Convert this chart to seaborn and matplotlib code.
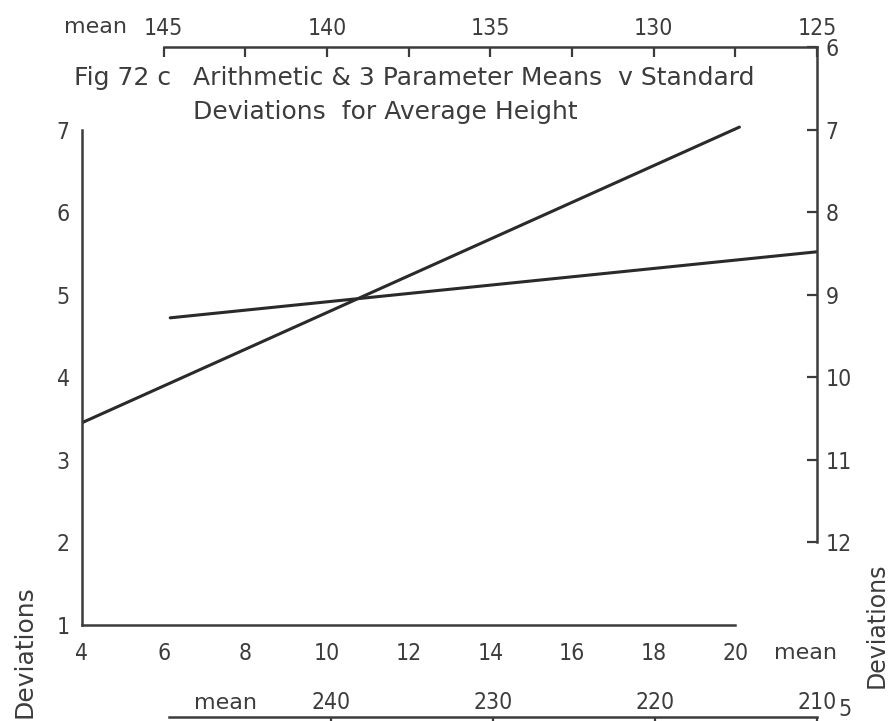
import numpy as np
import pandas as pd
import seaborn as sns
import matplotlib.pyplot as plt

# arithmetic mean series, read on the bottom (mean) and left (deviation) scales
arith_mean = [4.0, 20.1]
arith_sd = [3.45, 7.03]

# 3 parameter mean series, read on the top (mean) and right (deviation) scales
param_mean = [144.8, 125.0]
param_sd = [9.28, 8.48]

bottom_ticks = [4, 6, 8, 10, 12, 14, 16, 18, 20]
left_ticks = [1, 2, 3, 4, 5, 6, 7]
top_ticks = [145, 140, 135, 130, 125]
top_minor = [142.5, 137.5, 132.5, 127.5]
right_ticks = [6, 7, 8, 9, 10, 11, 12]
lower_ticks = [240, 230, 220, 210]

W, H = 891, 721
sns.set_style('white')
plt.rcParams['font.family'] = ['DejaVu Sans']
plt.rcParams['font.stretch'] = 'condensed'
ink = '#3c3c3c'
line_col = '#2a2a2a'
fs = 16.5


def fx(px):
    return px / W


def fy(py):
    return 1 - py / H


fig = plt.figure(figsize=(W / 100, H / 100), dpi=100)
# plot box in pixels: x 82..817, y 47..625 from the top
pos = [fx(82), fy(625), (817 - 82) / W, (625 - 47) / H]

# main axes: bottom mean 4-20, left deviations 1-7
ax = fig.add_axes(pos)
ax.set_xlim(4, 22)
ax.set_ylim(1, 8)
sns.lineplot(x=arith_mean, y=arith_sd, ax=ax, color=line_col, lw=2.2)
for s in ['top', 'right']:
    ax.spines[s].set_visible(False)
ax.spines['left'].set_bounds(1, 7)
ax.spines['bottom'].set_bounds(4, 20)
ax.set_xticks(bottom_ticks)
ax.set_yticks(left_ticks)
ax.tick_params(direction='in', length=7, width=1.6, color=ink,
               labelsize=fs, labelcolor=ink)
ax.tick_params(axis='x', pad=12)
ax.tick_params(axis='y', pad=9)

# overlay: top mean 145-125, right deviations 6-12
ax2 = fig.add_axes(pos)
ax2.patch.set_visible(False)
ax2.set_xlim(147.5, 125)
ax2.set_ylim(13, 6)
sns.lineplot(x=param_mean, y=param_sd, ax=ax2, color=line_col, lw=2.2)
for s in ['left', 'bottom']:
    ax2.spines[s].set_visible(False)
ax2.spines['top'].set_bounds(145, 125)
ax2.spines['right'].set_bounds(6, 12)
ax2.xaxis.tick_top()
ax2.yaxis.tick_right()
ax2.set_xticks(top_ticks)
ax2.set_xticks(top_minor, minor=True)
ax2.set_yticks(right_ticks)
ax2.tick_params(which='both', direction='in', length=7, width=1.6, color=ink,
                labelsize=fs, labelcolor=ink)
ax2.tick_params(axis='x', pad=5)
ax2.tick_params(axis='y', pad=6)

# lower mean scale 250-210, mostly cut off at the bottom edge
ax3 = fig.add_axes(pos)
ax3.patch.set_visible(False)
ax3.set_xlim(255.4, 210)
ax3.set_yticks([])
for s in ['left', 'bottom', 'right']:
    ax3.spines[s].set_visible(False)
ax3.spines['top'].set_position(('axes', (625 - 717) / 578))
ax3.spines['top'].set_bounds(250, 210)
ax3.xaxis.tick_top()
ax3.set_xticks(lower_ticks)
ax3.tick_params(direction='in', length=7, width=1.6, color=ink,
                labelsize=fs, labelcolor=ink, pad=2)

for a in [ax, ax2, ax3]:
    for s in a.spines.values():
        s.set_color(ink)
        s.set_linewidth(1.8)

# axis words
word = dict(fontsize=16, color=ink, ha='center', va='center', fontstretch='normal')
fig.text(fx(95), fy(27), 'mean', **word)
fig.text(fx(806), fy(653), 'mean', **word)
fig.text(fx(225), fy(703), 'mean', **word)
fig.text(fx(838), fy(710), '5', fontsize=fs, color=ink, ha='left', va='center')

fig.text(fx(24), fy(585), 'Deviations', fontsize=18, color=ink,
         rotation=90, ha='center', va='top', fontstretch='normal')
fig.text(fx(877), fy(563), 'Deviations', fontsize=17, color=ink,
         rotation=90, ha='center', va='top', fontstretch='normal')

# title block
title = dict(fontsize=18, color=ink, ha='left', va='center', fontstretch='normal')
fig.text(fx(74), fy(78), 'Fig 72 c', **title)
fig.text(fx(193), fy(78), 'Arithmetic & 3 Parameter Means  v Standard', **title)
fig.text(fx(193), fy(112), 'Deviations  for Average Height', **title)

fig.savefig('out.png', dpi=100)
